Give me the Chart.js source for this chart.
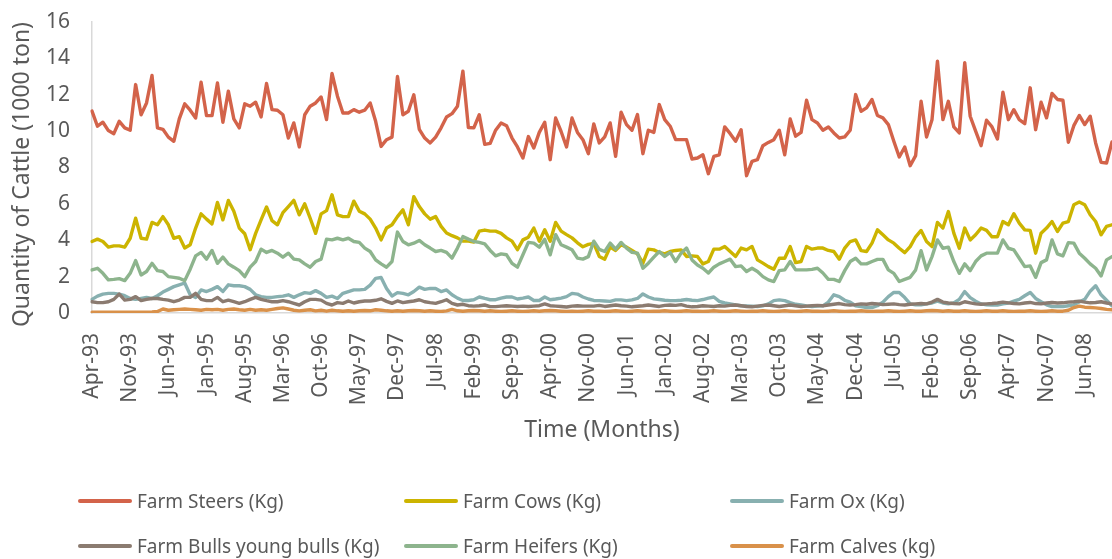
<!DOCTYPE html>
<html>
<head>
<meta charset="utf-8">
<title>Quantity of Cattle</title>
<script src="https://cdn.jsdelivr.net/npm/chart.js@4.4.1/dist/chart.umd.min.js"></script>
<style>
	html, body { margin: 0; padding: 0; background: #fff; overflow: hidden; }
	#CattleContainer { position: relative; width: 1112px; height: 559px; }
	#CattleLegend { position: absolute; left: 0; top: 0; width: 1112px; height: 559px; pointer-events: none;
		font-family: 'Noto Sans', sans-serif; font-size: 19px; color: #595959; }
	.legend-item { position: absolute; display: flex; align-items: center; white-space: nowrap; height: 26px; }
	.legend-line { display: inline-block; width: 54px; height: 4px; border-radius: 2px; margin-right: 5px; }
</style>
</head>
<body>
<div id="CattleContainer">
	<canvas id="CattleChart" width="1112" height="559"></canvas>
	<div id="CattleLegend"></div>
</div>
<script>

// months from Apr-93, one label per month
const startYear = 1993;
const startMonth = 3;
const monthCount = 188;
const monthNames = ['Jan', 'Feb', 'Mar', 'Apr', 'May', 'Jun', 'Jul', 'Aug', 'Sep', 'Oct', 'Nov', 'Dec'];
const tickEvery = 7;

const seriesNames = ['Farm Steers (Kg)', 'Farm Cows (Kg)', 'Farm Ox (Kg)', 'Farm Bulls young bulls (Kg)', 'Farm Heifers (Kg)', 'Farm Calves (kg)'];
const seriesColors = ['#d3634a', '#ccb400', '#88b0b0', '#8b7b70', '#8db48d', '#d9914a'];

const steers = [
	11.1, 10.27, 10.49, 10.03, 9.86, 10.54, 10.18, 10.05, 12.56, 10.9,
	11.55, 13.06, 10.18, 10.1, 9.67, 9.44, 10.67, 11.5, 11.15, 10.72,
	12.69, 10.85, 10.85, 12.65, 10.49, 12.2, 10.67, 10.18, 11.5, 11.37,
	11.59, 10.78, 12.62, 11.18, 11.15, 10.9, 9.62, 10.45, 9.13, 10.9,
	11.37, 11.55, 11.88, 10.64, 13.17, 11.92, 11.0,
	11.0, 11.18, 11.04, 11.15, 11.55, 10.54, 9.16, 9.53, 9.67, 13.0,
	10.9, 11.09, 12.0, 10.1, 9.62, 9.35, 9.67, 10.18, 10.78, 10.96,
	11.37, 13.3, 10.2, 10.18, 10.9, 9.27, 9.33, 10.05, 10.45, 10.3,
	9.62, 9.13, 8.52, 9.7, 9.07, 9.93, 10.49, 8.43, 10.72, 9.98,
	9.13, 10.72, 9.93, 9.53, 8.76, 10.4,
	9.35, 9.68, 10.45, 8.61, 11.04, 10.36, 10.05, 10.91, 8.76, 10.05,
	9.93, 11.46, 10.63, 10.27, 9.53, 9.53, 9.53, 8.47, 8.52, 8.7,
	7.66, 8.61, 8.7, 10.23, 9.86, 9.44, 10.08, 7.55, 8.34, 8.43,
	9.2, 9.38, 9.53, 10.05, 8.7, 10.67, 9.72, 9.93, 11.7, 10.63,
	10.45, 10.05, 10.23, 9.9, 9.62, 9.68, 10.05,
	12.01, 11.09, 11.28, 11.74, 10.86, 10.73, 10.36, 9.44, 8.58, 9.13,
	8.1, 8.65, 11.64, 9.68, 10.63, 13.85, 10.63, 11.64, 10.23, 9.9,
	13.76, 10.82, 10.0, 9.2, 10.6, 10.23, 9.57, 12.14, 10.63, 11.18,
	10.63, 10.41, 12.38, 10.08, 11.59, 10.73, 12.07, 11.74, 11.7, 9.39,
	10.3, 10.86, 10.36, 10.82, 9.35, 8.28, 8.25, 9.4
];

const cows = [
	3.93, 4.06, 3.93, 3.62, 3.69, 3.69, 3.62, 4.11, 5.21, 4.11,
	4.06, 4.98, 4.85, 5.3, 4.85, 4.11, 4.2, 3.57, 3.75, 4.67,
	5.45, 5.16, 4.9, 6.08, 5.12, 6.19, 5.59, 4.67, 4.36, 3.48,
	4.38, 5.12, 5.83, 5.08, 4.85, 5.52, 5.85, 6.19, 5.4, 6.0,
	5.21, 4.38, 5.45, 5.63, 6.5, 5.4, 5.3,
	5.3, 6.15, 5.6, 5.45, 5.16, 4.67, 4.02, 4.67, 4.85, 5.3,
	5.67, 4.85, 6.4, 5.85, 5.45, 5.16, 5.3, 4.76, 4.4, 4.25,
	4.13, 3.95, 3.95, 3.9, 4.5, 4.56, 4.5, 4.5, 4.38, 4.13,
	3.95, 3.48, 4.02, 4.17, 4.67, 3.95, 4.58, 3.95, 4.98, 4.5,
	4.31, 4.13, 3.86, 3.64, 3.77, 3.82,
	3.11, 2.96, 3.62, 3.44, 3.75, 3.62, 3.44, 3.25, 2.74, 3.51,
	3.47, 3.33, 3.25, 3.38, 3.44, 3.47, 3.11, 3.14, 3.11, 2.7,
	2.83, 3.51, 3.51, 3.66, 3.38, 3.11, 3.57, 3.47, 3.66, 2.92,
	2.74, 2.55, 2.4, 3.01, 3.01, 3.66, 2.77, 2.83, 3.66, 3.51,
	3.57, 3.57, 3.44, 3.38, 2.96, 3.57, 3.93,
	4.02, 3.43, 3.38, 3.84, 4.57, 4.3, 4.02, 3.84, 3.56, 3.32,
	3.65, 4.19, 4.54, 3.93, 3.65, 4.98, 4.67, 5.58, 4.39, 3.56,
	4.67, 4.02, 4.3, 4.67, 4.54, 4.19, 4.19, 5.03, 4.85, 5.46,
	4.94, 4.57, 4.54, 3.29, 4.39, 4.67, 5.03, 4.48, 4.94, 5.03,
	5.95, 6.1, 5.95, 5.4, 5.03, 4.3, 4.76, 4.85
];

const ox = [
	0.75, 0.93, 1.04, 1.08, 1.08, 1.04, 0.95, 0.8, 0.75, 0.8,
	0.85, 0.8, 0.95, 1.15, 1.3, 1.45, 1.55, 1.65, 1.0, 0.85,
	1.27, 1.18, 1.3, 1.45, 1.18, 1.55, 1.5, 1.5, 1.45, 1.3,
	1.0, 0.9, 0.86, 0.86, 0.9, 0.93, 1.0, 0.86, 1.0, 1.12,
	1.08, 1.23, 1.08, 0.86, 0.93, 0.8, 1.08,
	1.18, 1.27, 1.27, 1.3, 1.53, 1.9, 1.95, 1.35, 0.93, 1.12,
	1.08, 1.0, 1.18, 1.42, 1.3, 1.35, 1.35, 1.18, 1.27, 1.0,
	0.82, 0.69, 0.69, 0.73, 0.88, 0.8, 0.73, 0.73, 0.82, 0.88,
	0.88, 0.77, 0.82, 0.88, 0.69, 0.69, 0.88, 0.73, 0.77, 0.82,
	0.9, 1.08, 1.04, 0.88, 0.77, 0.69,
	0.68, 0.66, 0.64, 0.72, 0.72, 0.68, 0.72, 0.8, 1.05, 0.88,
	0.78, 0.74, 0.7, 0.68, 0.68, 0.7, 0.74, 0.7, 0.68, 0.74,
	0.82, 0.88, 0.64, 0.55, 0.5, 0.44, 0.4, 0.39, 0.38, 0.36,
	0.39, 0.5, 0.68, 0.72, 0.68, 0.57, 0.48, 0.44, 0.39, 0.36,
	0.38, 0.39, 0.6, 1.0, 0.9, 0.7, 0.6,
	0.4, 0.35, 0.3, 0.3, 0.4, 0.6, 0.9, 1.13, 1.13, 0.85,
	0.5, 0.45, 0.45, 0.5, 0.55, 0.65, 0.55, 0.5, 0.55, 0.75,
	1.18, 0.85, 0.65, 0.5, 0.45, 0.44, 0.44, 0.5, 0.55, 0.65,
	0.75, 0.95, 1.13, 0.8, 0.62, 0.45, 0.35, 0.35, 0.35, 0.4,
	0.45, 0.6, 0.75, 1.2, 1.5, 1.0, 0.7, 0.4
];

const bulls = [
	0.62, 0.57, 0.57, 0.62, 0.75, 1.04, 0.71, 0.75, 0.9, 0.68,
	0.75, 0.8, 0.8, 0.75, 0.71, 0.62, 0.71, 0.86, 0.86, 1.08,
	0.75, 0.68, 0.68, 0.86, 0.62, 0.71, 0.62, 0.53, 0.62, 0.75,
	0.86, 0.75, 0.68, 0.62, 0.62, 0.68, 0.62, 0.53, 0.44, 0.62,
	0.75, 0.75, 0.71, 0.53, 0.44, 0.57, 0.53,
	0.66, 0.55, 0.62, 0.66, 0.66, 0.7, 0.78, 0.64, 0.53, 0.66,
	0.57, 0.62, 0.66, 0.73, 0.62, 0.57, 0.53, 0.62, 0.73, 0.53,
	0.44, 0.48, 0.4, 0.38, 0.4, 0.44, 0.35, 0.35, 0.38, 0.4,
	0.38, 0.36, 0.38, 0.36, 0.38, 0.4, 0.5, 0.4, 0.38, 0.36,
	0.33, 0.38, 0.4, 0.38, 0.38, 0.38,
	0.42, 0.36, 0.4, 0.44, 0.4, 0.38, 0.34, 0.37, 0.4, 0.44,
	0.4, 0.36, 0.42, 0.44, 0.42, 0.46, 0.38, 0.34, 0.36, 0.4,
	0.38, 0.36, 0.4, 0.38, 0.42, 0.44, 0.4, 0.36, 0.34, 0.38,
	0.42, 0.44, 0.4, 0.36, 0.4, 0.44, 0.4, 0.36, 0.38, 0.4,
	0.42, 0.4, 0.44, 0.48, 0.52, 0.46, 0.44,
	0.46, 0.5, 0.48, 0.52, 0.5, 0.46, 0.48, 0.5, 0.46, 0.44,
	0.48, 0.5, 0.52, 0.5, 0.6, 0.75, 0.6, 0.55, 0.52, 0.5,
	0.62, 0.56, 0.5, 0.48, 0.5, 0.52, 0.55, 0.6, 0.56, 0.52,
	0.5, 0.55, 0.58, 0.52, 0.5, 0.55, 0.58, 0.55, 0.56, 0.6,
	0.62, 0.65, 0.6, 0.56, 0.58, 0.62, 0.55, 0.5
];

const heifers = [
	2.37, 2.46, 2.18, 1.82, 1.85, 1.89, 1.78, 2.18, 2.88, 2.09,
	2.28, 2.73, 2.33, 2.28, 2.0, 1.96, 1.91, 1.78, 2.41, 3.14,
	3.33, 2.96, 3.44, 2.73, 3.07, 2.7, 2.52, 2.33, 2.0, 2.52,
	2.83, 3.51, 3.33, 3.44, 3.29, 3.07, 3.29, 2.96, 2.92, 2.7,
	2.52, 2.83, 2.96, 4.06, 4.02, 4.11, 4.02,
	4.11, 3.93, 3.88, 3.57, 3.38, 2.92, 2.7, 2.52, 2.83, 4.45,
	3.93, 3.75, 3.84, 3.99, 3.75, 3.57, 3.38, 3.44, 3.33, 3.02,
	3.57, 4.2, 4.06, 3.93, 3.88, 3.8, 3.44, 3.14, 3.25, 3.2,
	2.73, 2.52, 3.2, 3.88, 3.84, 3.62, 4.05, 3.2, 4.31, 3.75,
	3.62, 3.48, 3.02, 2.96, 3.1, 3.95,
	3.5, 3.38, 3.84, 3.51, 3.88, 3.57, 3.33, 3.29, 2.46, 2.74,
	3.07, 3.38, 3.11, 3.33, 2.83, 3.29, 3.57, 2.92, 2.64, 2.46,
	2.2, 2.52, 2.7, 2.83, 2.96, 2.55, 2.59, 2.28, 2.46, 2.28,
	2.0, 1.82, 1.73, 2.33, 2.37, 2.83, 2.37, 2.37, 2.37, 2.4,
	2.46, 2.2, 1.85, 1.85, 1.73, 2.33, 2.83,
	3.01, 2.7, 2.7, 2.83, 2.95, 2.95, 2.37, 2.18, 1.73, 1.85,
	1.96, 2.37, 3.43, 2.37, 3.1, 4.02, 3.56, 3.62, 2.83, 2.18,
	2.7, 2.33, 2.83, 3.14, 3.29, 3.29, 3.29, 4.02, 3.56, 3.47,
	3.01, 2.55, 2.59, 1.96, 2.77, 2.92, 4.02, 3.25, 3.14, 3.87,
	3.84, 3.29, 3.01, 2.7, 2.46, 2.04, 2.92, 3.1
];

const calves = [
	0.05, 0.05, 0.04, 0.05, 0.05, 0.04, 0.05, 0.05, 0.04, 0.05,
	0.05, 0.06, 0.08, 0.22, 0.15, 0.18, 0.2, 0.22, 0.2, 0.18,
	0.15, 0.2, 0.18, 0.2, 0.15, 0.2, 0.22, 0.18, 0.15, 0.2,
	0.15, 0.18, 0.15, 0.2, 0.25, 0.28, 0.22, 0.15, 0.12, 0.15,
	0.18, 0.12, 0.15, 0.1, 0.15, 0.12, 0.1,
	0.12, 0.1, 0.12, 0.14, 0.12, 0.18, 0.15, 0.12, 0.1, 0.12,
	0.1, 0.12, 0.14, 0.12, 0.1, 0.12, 0.1, 0.08, 0.12, 0.2,
	0.12, 0.1, 0.12, 0.14, 0.12, 0.1, 0.12, 0.1, 0.08, 0.1,
	0.12, 0.1, 0.08, 0.1, 0.12, 0.1, 0.12, 0.14, 0.12, 0.1,
	0.08, 0.1, 0.08, 0.1, 0.12, 0.1,
	0.1, 0.08, 0.1, 0.12, 0.1, 0.08, 0.1, 0.12, 0.1, 0.08,
	0.1, 0.1, 0.12, 0.1, 0.08, 0.1, 0.12, 0.1, 0.1, 0.08,
	0.1, 0.12, 0.1, 0.08, 0.1, 0.12, 0.1, 0.08, 0.1, 0.1,
	0.12, 0.1, 0.08, 0.1, 0.12, 0.1, 0.08, 0.1, 0.12, 0.1,
	0.1, 0.08, 0.1, 0.12, 0.1, 0.08, 0.1,
	0.1, 0.12, 0.1, 0.08, 0.1, 0.1, 0.12, 0.1, 0.08, 0.1,
	0.12, 0.1, 0.1, 0.12, 0.14, 0.12, 0.1, 0.12, 0.1, 0.1,
	0.12, 0.1, 0.08, 0.1, 0.12, 0.1, 0.1, 0.12, 0.1, 0.08,
	0.1, 0.1, 0.12, 0.1, 0.08, 0.1, 0.12, 0.1, 0.1, 0.15,
	0.3, 0.38, 0.32, 0.3, 0.28, 0.25, 0.2, 0.18
];

document.addEventListener('DOMContentLoaded', initializeCattleChart);


function initializeCattleChart() {

	var labels = [];
	for (var i = 0; i < monthCount; i++) {
		var m = (startMonth + i) % 12;
		var y = startYear + Math.floor((startMonth + i) / 12);
		labels.push(monthNames[m] + '-' + String(y % 100).padStart(2, '0'));
	}

	const seriesValues = [steers, cows, ox, bulls, heifers, calves];

	Chart.defaults.font.family = "'Noto Sans', sans-serif";
	Chart.defaults.color = '#595959';

	const datasets = seriesValues.map((values, idx) => ({
		label: seriesNames[idx],
		data: values,
		borderColor: seriesColors[idx],
		backgroundColor: seriesColors[idx],
		borderWidth: 3.4,
		pointRadius: 0,
		tension: 0,
		borderJoinStyle: 'round',
		borderCapStyle: 'round',
		order: seriesValues.length - idx	// later series drawn on top, like the original
	}));

	const ctx = document.getElementById('CattleChart').getContext('2d');
	const cattleChart = new Chart(ctx, {
		type: 'line',
		data: { labels: labels, datasets: datasets },
		options: {
			responsive: false,
			animation: false,
			devicePixelRatio: 1,
			layout: { padding: { top: 22, right: 0, bottom: 109, left: 0 } },
			plugins: {
				legend: { display: false },
				tooltip: { enabled: false }
			},
			scales: {
				x: {
					offset: false,
					grid: { display: false, drawTicks: false },
					border: { display: true, color: '#d9d9d9', width: 1.5 },
					ticks: {
						autoSkip: false,
						maxRotation: 90,
						minRotation: 90,
						padding: 20,
						font: { size: 21 },
						callback: function (value, index) {
							return index % tickEvery === 0 ? labels[index] : '';
						}
					},
					title: {
						display: true,
						text: 'Time (Months)',
						font: { size: 23 },
						padding: { top: 0, bottom: 6 }
					},
					afterFit: function (scale) {
						scale.height = 137;
						scale.paddingLeft = 0;
						scale.paddingRight = 0;
					}
				},
				y: {
					min: 0,
					max: 16,
					grid: { display: false, drawTicks: false },
					border: { display: true, color: '#d9d9d9', width: 1.5 },
					ticks: { stepSize: 2, padding: 22, font: { size: 21 } },
					title: {
						display: true,
						text: 'Quantity of Cattle (1000 ton)',
						align: 'end',
						font: { size: 23 },
						padding: { top: 9, bottom: 0 }
					},
					afterFit: function (scale) {
						scale.width = 92;
						// plot top comes from the layout padding alone
						scale.paddingTop = 0;
						scale.paddingBottom = 0;
					}
				}
			}
		}
	});

	// legend in a 3 column grid below the plot
	var legend = document.getElementById('CattleLegend');
	seriesNames.forEach((name, idx) => {
		var item = document.createElement('div');
		item.className = 'legend-item';
		item.style.left = (78 + (idx % 3) * 326) + 'px';
		item.style.top = (Math.floor(idx / 3) === 0 ? 488 : 533) + 'px';
		var line = document.createElement('span');
		line.className = 'legend-line';
		line.style.background = seriesColors[idx];
		item.appendChild(line);
		item.appendChild(document.createTextNode(name));
		legend.appendChild(item);
	});
}
</script>
</body>
</html>
